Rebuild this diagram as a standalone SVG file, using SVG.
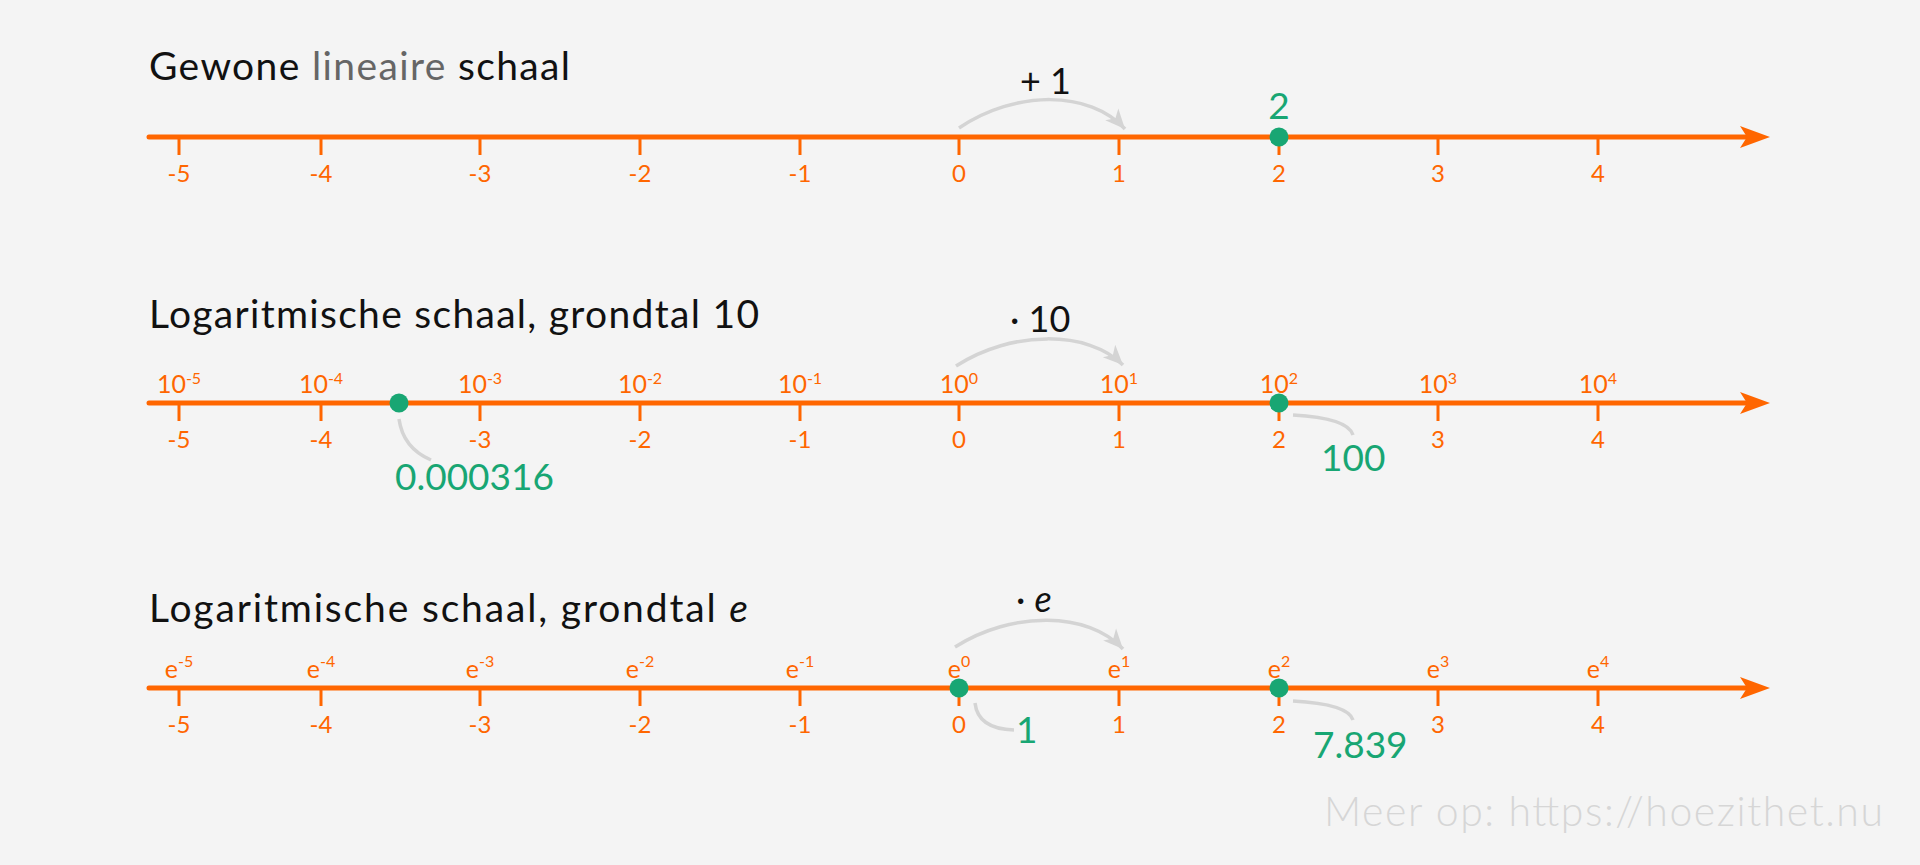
<svg xmlns="http://www.w3.org/2000/svg" width="1920" height="865" viewBox="0 0 1920 865">
<defs>
<style>
text{font-family:Lato,"Open Sans","Noto Sans",sans-serif}
.title{font-size:39px;fill:#111}
.axis{stroke:#FF6600;stroke-width:5;stroke-linecap:round;fill:none}
.head{fill:#FF6600}
.tick{stroke:#FF6600;stroke-width:3}
.tl{font-size:24px;fill:#FF6600;text-anchor:middle}
.sl{font-size:25px;fill:#FF6600;text-anchor:middle}
.sup{font-size:16px}
.pt{fill:#18A673}
.val{font-size:37px;fill:#18A673}
.conn{stroke:#D4D4D4;stroke-width:3.5;fill:none}
.op{font-size:36px;fill:#111}
.wm{font-size:41px;fill:#D6D6D6;font-weight:300}
</style>
<marker id="ah" markerUnits="userSpaceOnUse" markerWidth="22" markerHeight="22" viewBox="0 0 20 20" refX="18" refY="10" orient="auto">
<path d="M0,2 L18,10 L0,18 L5,10 z" fill="#D4D4D4"/>
</marker>
<g id="ticks">
<line class="tick" x1="179" y1="0" x2="179" y2="18"/>
<line class="tick" x1="321" y1="0" x2="321" y2="18"/>
<line class="tick" x1="480" y1="0" x2="480" y2="18"/>
<line class="tick" x1="640" y1="0" x2="640" y2="18"/>
<line class="tick" x1="800" y1="0" x2="800" y2="18"/>
<line class="tick" x1="959" y1="0" x2="959" y2="18"/>
<line class="tick" x1="1119" y1="0" x2="1119" y2="18"/>
<line class="tick" x1="1279" y1="0" x2="1279" y2="18"/>
<line class="tick" x1="1438" y1="0" x2="1438" y2="18"/>
<line class="tick" x1="1598" y1="0" x2="1598" y2="18"/>
<text class="tl" x="179" y="45">-5</text>
<text class="tl" x="321" y="45">-4</text>
<text class="tl" x="480" y="45">-3</text>
<text class="tl" x="640" y="45">-2</text>
<text class="tl" x="800" y="45">-1</text>
<text class="tl" x="959" y="45">0</text>
<text class="tl" x="1119" y="45">1</text>
<text class="tl" x="1279" y="45">2</text>
<text class="tl" x="1438" y="45">3</text>
<text class="tl" x="1598" y="45">4</text>
</g>
</defs>
<rect width="1920" height="865" fill="#F4F4F4"/>

<g id="connectors">
<path class="conn" marker-end="url(#ah)" d="M959,128 C1015,90 1090,90 1125,129"/>
<path class="conn" marker-end="url(#ah)" d="M956,366 C1012,330 1088,330 1123,365"/>
<path class="conn" marker-end="url(#ah)" d="M955,647 C1012,611 1088,611 1123,649"/>
<path class="conn" d="M399,419 Q403,448 431,460"/>
<path class="conn" d="M1293,415 Q1348,418 1353,435"/>
<path class="conn" d="M975,703 Q978,729 1014,730"/>
<path class="conn" d="M1293,701 Q1348,704 1353,720"/>
</g>

<g id="linear-scale">
<text class="title" x="149" y="80" textLength="421" lengthAdjust="spacing">Gewone <tspan fill="#666">lineaire</tspan> schaal</text>
<line class="axis" x1="149" y1="137" x2="1748" y2="137"/>
<path class="head" d="M1770,137 L1740,126 L1747,137 L1740,148 z"/>
<use href="#ticks" y="137"/>
<text class="op" x="1020" y="94">+ 1</text>
<circle class="pt" cx="1279" cy="137" r="9.5"/>
<text class="val" x="1279" y="119" text-anchor="middle">2</text>
</g>

<g id="log10-scale">
<text class="title" x="149" y="328" textLength="610" lengthAdjust="spacing">Logaritmische schaal, grondtal 10</text>
<line class="axis" x1="149" y1="403" x2="1748" y2="403"/>
<path class="head" d="M1770,403 L1740,392 L1747,403 L1740,414 z"/>
<use href="#ticks" y="403"/>
<text class="sl" x="179" y="393">10<tspan class="sup" dy="-9">-5</tspan></text>
<text class="sl" x="321" y="393">10<tspan class="sup" dy="-9">-4</tspan></text>
<text class="sl" x="480" y="393">10<tspan class="sup" dy="-9">-3</tspan></text>
<text class="sl" x="640" y="393">10<tspan class="sup" dy="-9">-2</tspan></text>
<text class="sl" x="800" y="393">10<tspan class="sup" dy="-9">-1</tspan></text>
<text class="sl" x="959" y="393">10<tspan class="sup" dy="-9">0</tspan></text>
<text class="sl" x="1119" y="393">10<tspan class="sup" dy="-9">1</tspan></text>
<text class="sl" x="1279" y="393">10<tspan class="sup" dy="-9">2</tspan></text>
<text class="sl" x="1438" y="393">10<tspan class="sup" dy="-9">3</tspan></text>
<text class="sl" x="1598" y="393">10<tspan class="sup" dy="-9">4</tspan></text>
<text class="op" x="1010" y="332">· 10</text>
<circle class="pt" cx="399" cy="403" r="9.5"/>
<text class="val" x="395" y="490">0.000316</text>
<circle class="pt" cx="1279" cy="403" r="9.5"/>
<text class="val" x="1321" y="471">100</text>
</g>

<g id="loge-scale">
<text class="title" x="149" y="622" textLength="599" lengthAdjust="spacing">Logaritmische schaal, grondtal <tspan font-style="italic">e</tspan></text>
<line class="axis" x1="149" y1="688" x2="1748" y2="688"/>
<path class="head" d="M1770,688 L1740,677 L1747,688 L1740,699 z"/>
<use href="#ticks" y="688"/>
<text class="sl" x="179" y="678">e<tspan class="sup" dy="-11">-5</tspan></text>
<text class="sl" x="321" y="678">e<tspan class="sup" dy="-11">-4</tspan></text>
<text class="sl" x="480" y="678">e<tspan class="sup" dy="-11">-3</tspan></text>
<text class="sl" x="640" y="678">e<tspan class="sup" dy="-11">-2</tspan></text>
<text class="sl" x="800" y="678">e<tspan class="sup" dy="-11">-1</tspan></text>
<text class="sl" x="959" y="678">e<tspan class="sup" dy="-11">0</tspan></text>
<text class="sl" x="1119" y="678">e<tspan class="sup" dy="-11">1</tspan></text>
<text class="sl" x="1279" y="678">e<tspan class="sup" dy="-11">2</tspan></text>
<text class="sl" x="1438" y="678">e<tspan class="sup" dy="-11">3</tspan></text>
<text class="sl" x="1598" y="678">e<tspan class="sup" dy="-11">4</tspan></text>
<text class="op" x="1016" y="612">· <tspan font-style="italic">e</tspan></text>
<circle class="pt" cx="959" cy="688" r="9.5"/>
<text class="val" x="1016" y="743">1</text>
<circle class="pt" cx="1279" cy="688" r="9.5"/>
<text class="val" x="1313" y="758">7.839</text>
</g>

<g id="watermark">
<text class="wm" x="1324" y="826" textLength="559" lengthAdjust="spacing">Meer op: https://hoezithet.nu</text>
</g>
</svg>
